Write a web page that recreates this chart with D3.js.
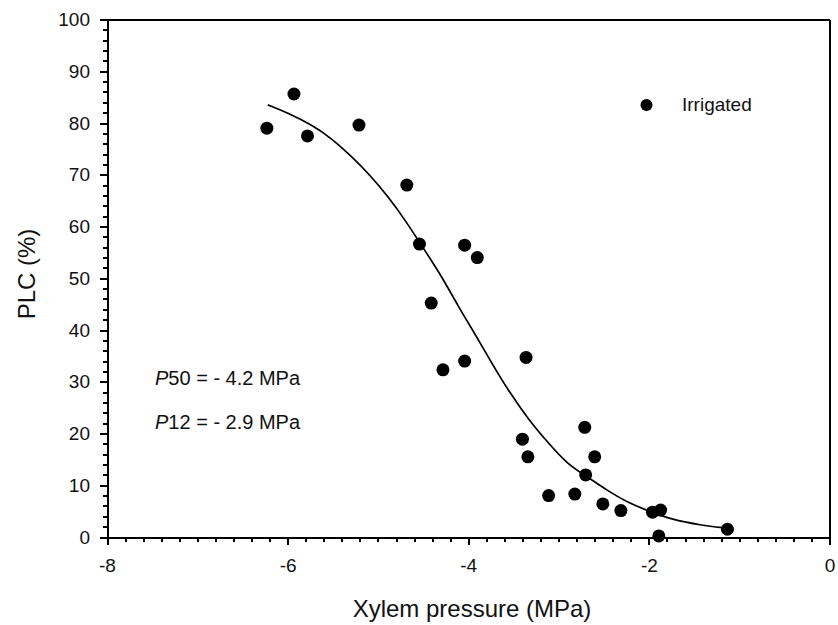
<!DOCTYPE html>
<html>
<head>
<meta charset="utf-8">
<script src="https://cdn.jsdelivr.net/npm/d3@7"></script>
<style>
    body { margin: 0; background: #fff; }
    svg text { font-family: "Liberation Sans", Arial, sans-serif; fill: #111; }
    .axis path, .axis line { stroke: #000; shape-rendering: crispEdges; }
</style>
</head>
<body>
<svg id="chart"></svg>
<script>
// measured points (Irrigated)
const pressure = [-6.23, -5.93, -5.78, -5.21, -4.68, -4.54, -4.41, -4.28, -4.04, -4.04, -3.90,
    -3.40, -3.36, -3.34, -3.11, -2.82, -2.71, -2.70, -2.60, -2.51, -2.31, -1.96, -1.87, -1.89, -1.13];
const plc = [79.0, 85.6, 77.5, 79.6, 68.0, 56.6, 45.2, 32.3, 56.4, 34.0, 54.0,
    18.9, 34.7, 15.5, 8.0, 8.3, 21.2, 12.0, 15.5, 6.4, 5.1, 4.8, 5.2, 0.2, 1.5];

// fitted curve
const curvePressure = [-6.22, -5.99, -5.73, -5.51, -5.29, -5.07, -4.89, -4.70, -4.52, -4.29, -4.11,
    -3.93, -3.74, -3.56, -3.33, -3.11, -2.91, -2.69, -2.47, -2.25, -1.99, -1.73, -1.43, -1.14];
const curvePlc = [83.5, 81.9, 79.6, 77.0, 73.5, 69.6, 65.8, 61.3, 56.4, 50.3, 44.5,
    39.4, 33.6, 28.4, 22.6, 18.1, 14.2, 11.7, 9.1, 6.8, 4.9, 3.3, 2.3, 1.7];

const xTicks = [-8, -6, -4, -2, 0];
const yTicks = [0, 10, 20, 30, 40, 50, 60, 70, 80, 90, 100];
const legendLabel = 'Irrigated';
const notes = [
    {p: 'P', rest: '50 = - 4.2 MPa'},
    {p: 'P', rest: '12 = - 2.9 MPa'}
];

class VulnerabilityChart {
    constructor(_config) {
        this.config = {
            parentElement: _config.parentElement,
            containerWidth: _config.containerWidth || 838,
            containerHeight: _config.containerHeight || 625,
            margin: _config.margin || {top: 19.5, right: 8.5, bottom: 88, left: 107}
        }
        this.initVis();
    }

    initVis() {
        let vis = this;

        vis.width = vis.config.containerWidth - vis.config.margin.left - vis.config.margin.right;
        vis.height = vis.config.containerHeight - vis.config.margin.top - vis.config.margin.bottom;

        vis.svg = d3.select(vis.config.parentElement)
            .attr('width', vis.config.containerWidth)
            .attr('height', vis.config.containerHeight);

        vis.chart = vis.svg.append('g')
            .attr('transform', `translate(${vis.config.margin.left},${vis.config.margin.top})`);

        vis.xScale = d3.scaleLinear()
            .domain([-8, 0])
            .range([0, vis.width]);
        vis.yScale = d3.scaleLinear()
            .domain([0, 100])
            .range([vis.height, 0]);

        // minor ticks first, majors on top
        vis.xMinor = d3.axisBottom(vis.xScale)
            .ticks(40).tickSize(5).tickFormat('').tickSizeOuter(0);
        vis.yMinor = d3.axisLeft(vis.yScale)
            .ticks(50).tickSize(4).tickFormat('').tickSizeOuter(0);

        vis.xAxis = d3.axisBottom(vis.xScale)
            .tickValues(xTicks).tickSize(8).tickPadding(14).tickSizeOuter(0)
            .tickFormat(d => d3.format('d')(d).replace('\u2212', '-'));
        vis.yAxis = d3.axisLeft(vis.yScale)
            .tickValues(yTicks).tickSize(7).tickPadding(10).tickSizeOuter(0);

        vis.renderVis();
    }

    renderVis() {
        let vis = this;

        // frame on top / right
        vis.chart.append('line')
            .attr('x1', 0).attr('x2', vis.width)
            .attr('y1', 0).attr('y2', 0)
            .attr('stroke', '#000').attr('stroke-width', 2)
            .attr('shape-rendering', 'crispEdges');
        vis.chart.append('line')
            .attr('x1', vis.width).attr('x2', vis.width)
            .attr('y1', 0).attr('y2', vis.height)
            .attr('stroke', '#000').attr('stroke-width', 2)
            .attr('shape-rendering', 'crispEdges');

        vis.chart.append('g')
            .attr('class', 'axis x-minor')
            .attr('transform', `translate(0,${vis.height})`)
            .call(vis.xMinor)
            .selectAll('line').attr('stroke-width', 2);
        vis.chart.append('g')
            .attr('class', 'axis y-minor')
            .call(vis.yMinor)
            .selectAll('line').attr('stroke-width', 2);

        const xg = vis.chart.append('g')
            .attr('class', 'axis x-axis')
            .attr('transform', `translate(0,${vis.height})`)
            .call(vis.xAxis);
        xg.select('.domain').attr('stroke-width', 2);
        xg.selectAll('line').attr('stroke-width', 2);
        xg.selectAll('text').attr('font-size', 19).attr('fill', '#111');

        const yg = vis.chart.append('g')
            .attr('class', 'axis y-axis')
            .call(vis.yAxis);
        yg.select('.domain').attr('stroke-width', 2);
        yg.selectAll('line').attr('stroke-width', 2);
        yg.selectAll('text').attr('font-size', 19).attr('fill', '#111');

        // axis titles
        vis.svg.append('text')
            .attr('x', 472)
            .attr('y', 617)
            .attr('text-anchor', 'middle')
            .attr('font-size', 24)
            .text('Xylem pressure (MPa)');
        vis.svg.append('text')
            .attr('transform', 'translate(35,274) rotate(-90)')
            .attr('text-anchor', 'middle')
            .attr('font-size', 24)
            .text('PLC (%)');

        // fitted curve
        const line = d3.line()
            .x((d, i) => vis.xScale(curvePressure[i]))
            .y((d, i) => vis.yScale(curvePlc[i]))
            .curve(d3.curveBasis);
        vis.chart.append('path')
            .datum(curvePlc)
            .attr('fill', 'none')
            .attr('stroke', '#000')
            .attr('stroke-width', 1.7)
            .attr('d', line);

        // points
        vis.chart.selectAll('.dot')
            .data(pressure)
            .enter()
            .append('circle')
                .attr('class', 'dot')
                .attr('cx', d => vis.xScale(d))
                .attr('cy', (d, i) => vis.yScale(plc[i]))
                .attr('r', 6.5)
                .attr('fill', '#000');

        // legend
        vis.svg.append('circle')
            .attr('cx', 646.5).attr('cy', 105).attr('r', 6)
            .attr('fill', '#000');
        vis.svg.append('text')
            .attr('x', 682).attr('y', 111)
            .attr('font-size', 19)
            .text(legendLabel);

        // P50 / P12 notes
        notes.forEach((n, i) => {
            const t = vis.svg.append('text')
                .attr('x', 155)
                .attr('y', 385 + i * 44)
                .attr('font-size', 20);
            t.append('tspan').attr('font-style', 'italic').text(n.p);
            t.append('tspan').text(n.rest);
        });
    }
}

new VulnerabilityChart({parentElement: '#chart'});
</script>
</body>
</html>
